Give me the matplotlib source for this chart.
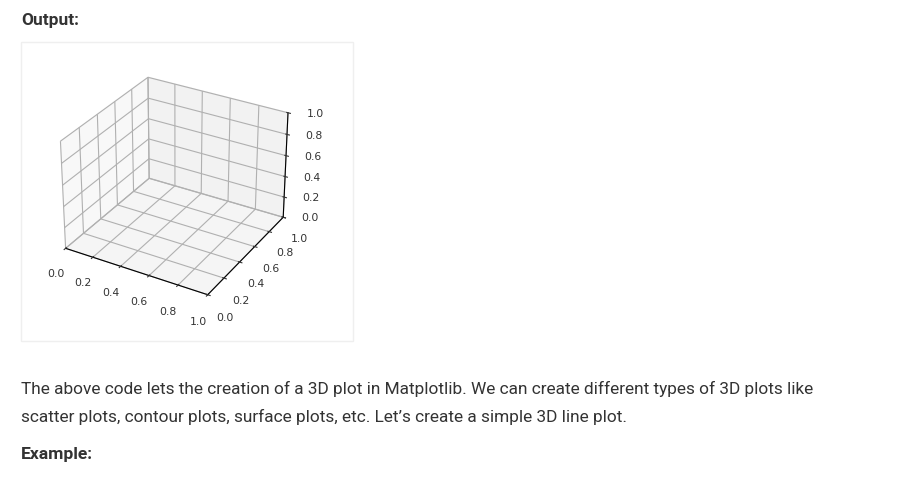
import matplotlib
matplotlib.use("Agg")
import matplotlib.pyplot as plt
from matplotlib.patches import Rectangle

# Data: an empty 3D axes with default limits
x_ticks = [0.0, 0.2, 0.4, 0.6, 0.8, 1.0]
y_ticks = [0.0, 0.2, 0.4, 0.6, 0.8, 1.0]
z_ticks = [0.0, 0.2, 0.4, 0.6, 0.8, 1.0]
heading = "Output:"
para_line1 = "The above code lets the creation of a 3D plot in Matplotlib. We can create different types of 3D plots like"
para_line2 = "scatter plots, contour plots, surface plots, etc. Let\u2019s create a simple 3D line plot."
footer = "Example:"

page_font = ["Roboto", "DejaVu Sans"]

W, H = 900, 482
fig = plt.figure(figsize=(W / 100, H / 100), dpi=100)
fig.patch.set_facecolor("white")

def fx(px):
    return px / W

def fy(py):
    return 1 - py / H

fig.text(fx(21), fy(20), heading, family=page_font, fontsize=12.5, fontweight="bold",
         color="#333333", va="center", ha="left")
fig.text(fx(21), fy(389), para_line1, family=page_font, fontsize=12.4,
         color="#333333", va="center", ha="left")
fig.text(fx(21), fy(417), para_line2, family=page_font, fontsize=12.4,
         color="#333333", va="center", ha="left")
fig.text(fx(21), fy(455), footer, family=page_font, fontsize=12.6, fontweight="bold",
         color="#333333", va="center", ha="left")

# panel box
box = Rectangle((fx(21), fy(341)), fx(353) - fx(21), fy(42) - fy(341),
                transform=fig.transFigure, facecolor="white", edgecolor="#efefef",
                linewidth=1.0, zorder=-5)
fig.patches.append(box)

ax = fig.add_axes([fx(35), fy(310.7), fx(311) - fx(35), fy(57.7) - fy(310.7)], projection="3d")
ax.set_xlim(0, 1)
ax.set_ylim(0, 1)
ax.set_zlim(0, 1)
ax.set_xticks(x_ticks)
ax.set_yticks(y_ticks)
ax.set_zticks(z_ticks)
ax.set_xticklabels([f"{t:.1f}" for t in x_ticks])
ax.set_yticklabels([f"{t:.1f}" for t in y_ticks])
ax.set_zticklabels([f"{t:.1f}" for t in z_ticks])
ax.tick_params(labelsize=7.8, colors="#333333", pad=3)
ax.tick_params(axis="z", pad=4)
ax.patch.set_alpha(0)

fig.savefig("out.png", dpi=100)
